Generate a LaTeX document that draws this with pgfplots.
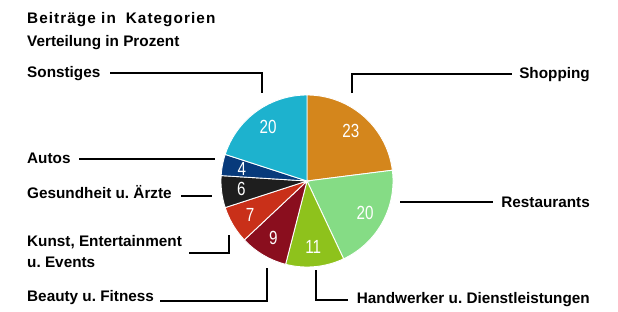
\documentclass[border=0pt]{standalone}
\usepackage{pgfplots}
\usepackage{pgfplotstable}
\usepackage{graphicx}
\pgfplotsset{compat=1.18}
\usepackage{fontspec}
\setmainfont{Liberation Sans}
\frenchspacing
\definecolor{cShop}{HTML}{D4861C}
\definecolor{cRest}{HTML}{85DC85}
\definecolor{cHand}{HTML}{8EC21C}
\definecolor{cBeau}{HTML}{8A0E1E}
\definecolor{cKunst}{HTML}{C93019}
\definecolor{cGes}{HTML}{1E1E1E}
\definecolor{cAuto}{HTML}{073A7B}
\definecolor{cSonst}{HTML}{1DB2CE}
\newcommand{\lab}{\fontsize{15.3bp}{21bp}\selectfont\bfseries}
\newcommand{\numfont}{\fontsize{19bp}{20bp}\selectfont}
\pgfplotstableread{
value color
23 cShop
20 cRest
11 cHand
9 cBeau
7 cKunst
6 cGes
4 cAuto
20 cSonst
}\piedata
\def\cx{307}\def\cy{181}\def\R{86}
\begin{document}
\begin{tikzpicture}
\useasboundingbox (0,0) rectangle (618bp,312bp);
\begin{axis}[
  at={(0,0)}, anchor=south west,
  scale only axis, width=618bp, height=312bp,
  xmin=0, xmax=618, ymin=0, ymax=312, y dir=reverse,
  hide axis, clip=false,
]
\def\start{90}
\pgfplotsforeachungrouped \i in {0,...,7}{%
  \pgfplotstablegetelem{\i}{value}\of\piedata \let\v\pgfplotsretval
  \pgfplotstablegetelem{\i}{color}\of\piedata \let\c\pgfplotsretval
  \pgfmathsetmacro\stop{\start-3.6*\v}%
  \pgfmathsetmacro\mid{(\start+\stop)/2}%
  \pgfmathsetmacro\lx{\cx+0.77*\R*cos(\mid)}%
  \pgfmathsetmacro\ly{\cy-0.77*\R*sin(\mid)}%
  \edef\cmd{%
    \noexpand\addplot[fill=\c, draw=white, line width=0.9pt, domain=\stop:\start, samples=80, variable=\noexpand\t]
      ({\cx+\R*cos(\noexpand\t)},{\cy-\R*sin(\noexpand\t)}) -- (axis cs:\cx,\cy) -- cycle;
    \noexpand\node[text=white, font=\noexpand\numfont, inner sep=0pt] at (axis cs:\lx,\ly) {\noexpand\scalebox{0.8}[1]{\v}};
  }%
  \cmd
  \global\let\start\stop
}
% title
\node[anchor=west, font=\lab, inner sep=0pt] at (axis cs:27,20) {\addfontfeature{LetterSpace=7}Beiträge in\hspace{0.3em} Kategorien};
\node[anchor=west, font=\lab, inner sep=0pt] at (axis cs:27,43) {Verteilung in Prozent};
% left labels
\node[anchor=west, font=\lab, inner sep=0pt] at (axis cs:27,74) {Sonstiges};
\draw[line width=1.1pt] (axis cs:110,73) -- (axis cs:262,73) -- (axis cs:262,93);
\node[anchor=west, font=\lab, inner sep=0pt] at (axis cs:27,158) {Autos};
\draw[line width=1.1pt] (axis cs:79,159) -- (axis cs:215,159);
\node[anchor=west, font=\lab, inner sep=0pt] at (axis cs:27,192) {Gesundheit u. Ärzte};
\draw[line width=1.1pt] (axis cs:181,196) -- (axis cs:212,196);
\node[anchor=west, font=\lab, inner sep=0pt, align=left] at (axis cs:27,252) {Kunst, Entertainment\\u. Events};
\draw[line width=1.1pt] (axis cs:189,253) -- (axis cs:229,253) -- (axis cs:229,235);
\node[anchor=west, font=\lab, inner sep=0pt] at (axis cs:27,298) {Beauty u. Fitness};
\draw[line width=1.1pt] (axis cs:160,301) -- (axis cs:267,301) -- (axis cs:267,268);
% right labels
\node[anchor=east, font=\lab, inner sep=0pt] at (axis cs:590,75) {Shopping};
\draw[line width=1.1pt] (axis cs:352,93) -- (axis cs:352,74) -- (axis cs:512,74);
\node[anchor=east, font=\lab, inner sep=0pt] at (axis cs:590,202) {Restaurants};
\draw[line width=1.1pt] (axis cs:400,202) -- (axis cs:493,202);
\node[anchor=east, font=\lab, inner sep=0pt] at (axis cs:590,300) {Handwerker u. Dienstleistungen};
\draw[line width=1.1pt] (axis cs:316,270) -- (axis cs:316,300) -- (axis cs:348,300);
\end{axis}
\end{tikzpicture}
\end{document}
